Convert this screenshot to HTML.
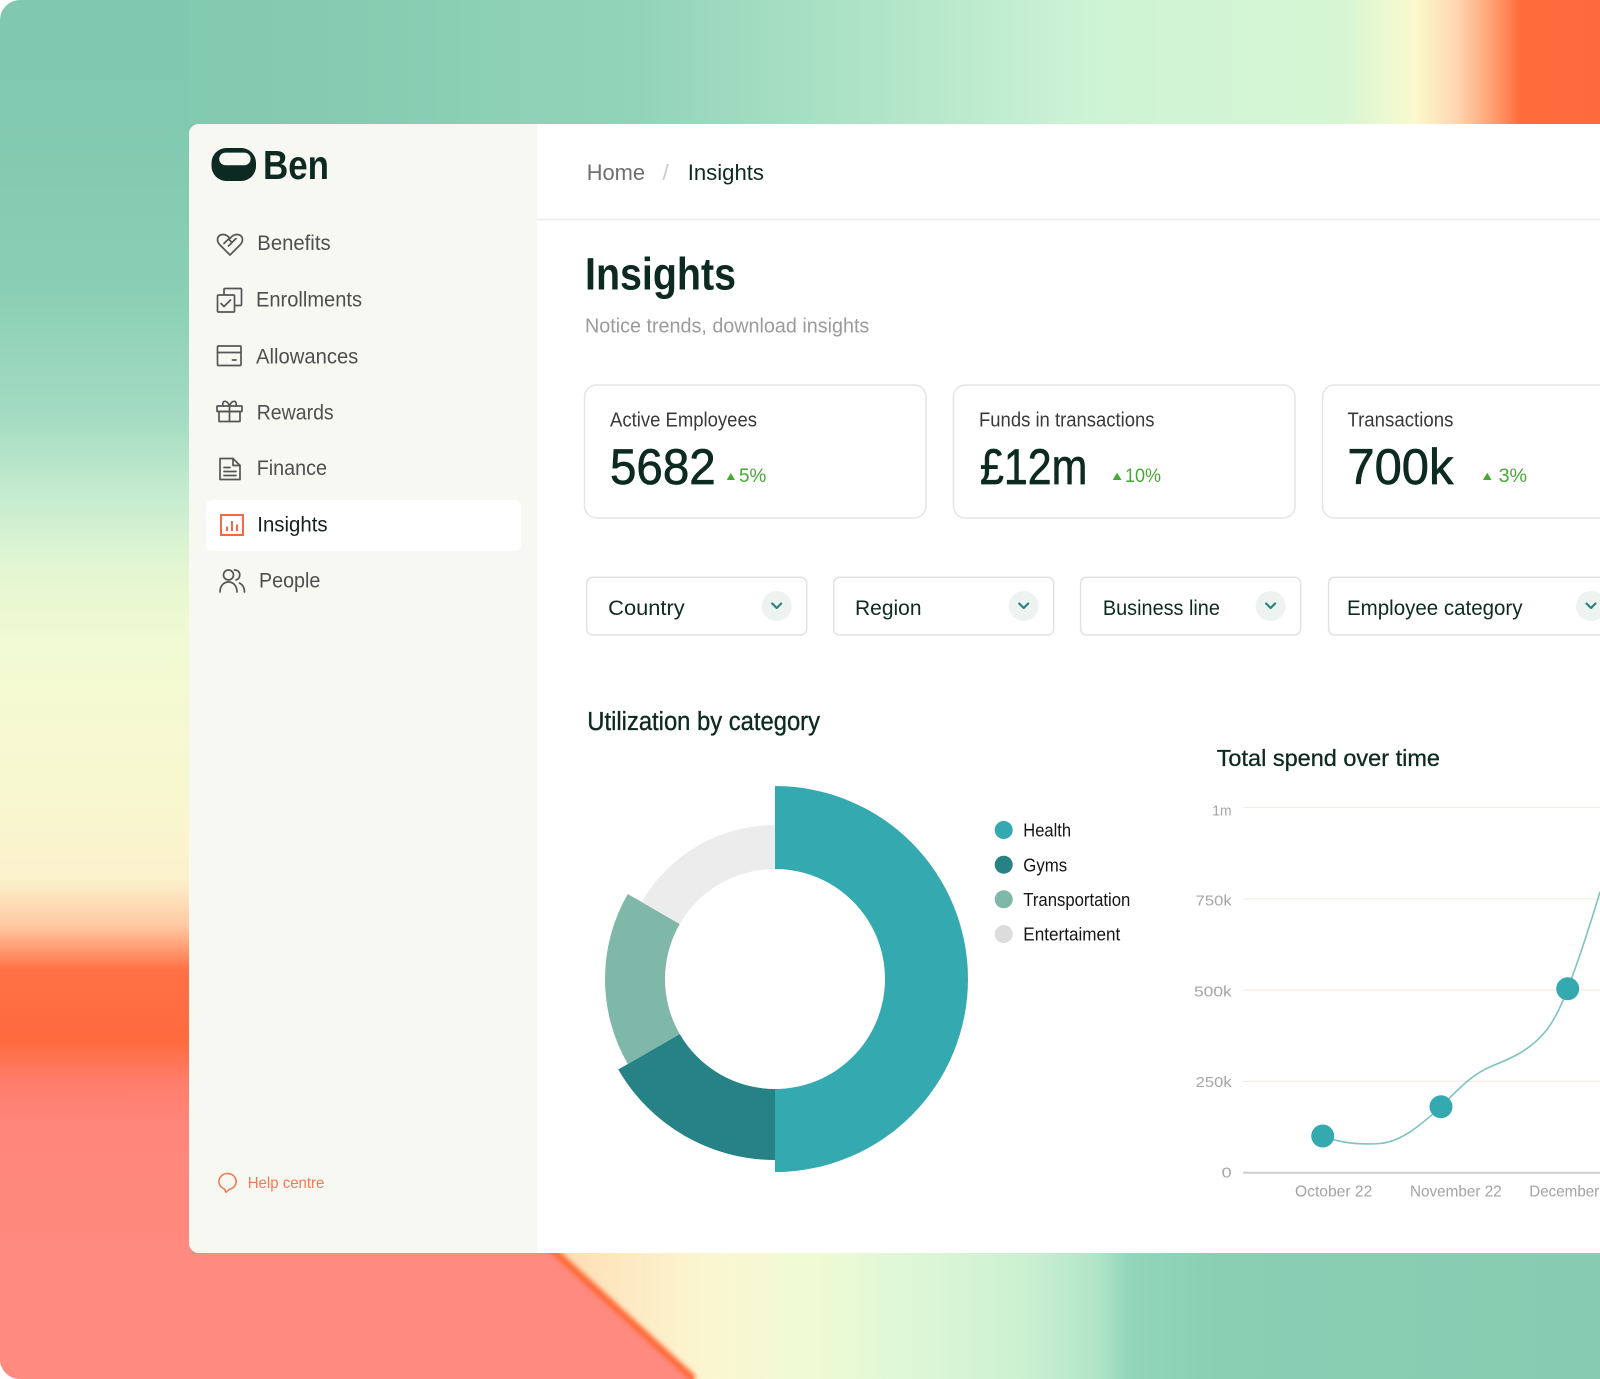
<!DOCTYPE html>
<html><head><meta charset="utf-8">
<style>
html,body{margin:0;padding:0;background:#fff;width:1600px;height:1379px;overflow:hidden;}
svg{display:block;}
text{font-family:"Liberation Sans",Arial,sans-serif;}
</style></head><body>
<svg width="1600" height="1379" viewBox="0 0 1600 1379" xmlns="http://www.w3.org/2000/svg">
<defs>
 <clipPath id="outer"><path d="M20,0H1600V1379H20A20,20 0 0 1 0,1359V20A20,20 0 0 1 20,0Z"/></clipPath>
 <clipPath id="panel"><path d="M199,124H1600V1253H199A10,10 0 0 1 189,1243V134A10,10 0 0 1 199,124Z"/></clipPath>
 <linearGradient id="gTop" gradientUnits="userSpaceOnUse" x1="0" y1="0" x2="1600" y2="0">
  <stop offset="0" stop-color="#80c8af"/>
  <stop offset="0.2" stop-color="#84cbb1"/>
  <stop offset="0.4" stop-color="#93d4b9"/>
  <stop offset="0.55" stop-color="#b0e4c8"/>
  <stop offset="0.68" stop-color="#cdf3d5"/>
  <stop offset="0.84" stop-color="#d6f6d2"/>
  <stop offset="0.875" stop-color="#f3f9cf"/>
  <stop offset="0.885" stop-color="#fcf8cb"/>
  <stop offset="0.91" stop-color="#fed8b2"/>
  <stop offset="0.935" stop-color="#ff9a6c"/>
  <stop offset="0.95" stop-color="#ff6c3c"/>
  <stop offset="1" stop-color="#ff6a3c"/>
 </linearGradient>
 <linearGradient id="gLeft" gradientUnits="userSpaceOnUse" x1="0" y1="0" x2="0" y2="1379">
  <stop offset="0" stop-color="#80c8af"/>
  <stop offset="0.09" stop-color="#81c9b0"/>
  <stop offset="0.21" stop-color="#8acfb5"/>
  <stop offset="0.30" stop-color="#a2dbc0"/>
  <stop offset="0.36" stop-color="#c6ecd0"/>
  <stop offset="0.415" stop-color="#e4f7d2"/>
  <stop offset="0.47" stop-color="#f2fad3"/>
  <stop offset="0.573" stop-color="#f8f8d0"/>
  <stop offset="0.638" stop-color="#fbf1cb"/>
  <stop offset="0.672" stop-color="#ffc8a0"/>
  <stop offset="0.703" stop-color="#ff7246"/>
  <stop offset="0.754" stop-color="#ff6a3e"/>
  <stop offset="0.785" stop-color="#ff7d6c"/>
  <stop offset="0.815" stop-color="#ff867a"/>
  <stop offset="1" stop-color="#ff8c82"/>
 </linearGradient>
 <linearGradient id="gBot" gradientUnits="userSpaceOnUse" x1="0" y1="0" x2="1600" y2="0">
  <stop offset="0" stop-color="#ff8a80"/>
  <stop offset="0.34" stop-color="#ff8a80"/>
  <stop offset="0.35" stop-color="#ffdcb4"/>
  <stop offset="0.39" stop-color="#fde9c2"/>
  <stop offset="0.44" stop-color="#fbf6d0"/>
  <stop offset="0.51" stop-color="#eefbd4"/>
  <stop offset="0.575" stop-color="#dcf7d6"/>
  <stop offset="0.64" stop-color="#cbf1d2"/>
  <stop offset="0.685" stop-color="#b2e5c7"/>
  <stop offset="0.705" stop-color="#93d6ba"/>
  <stop offset="0.76" stop-color="#88cfb4"/>
  <stop offset="1" stop-color="#86ccb2"/>
 </linearGradient>
 <filter id="blur3" x="-20%" y="-20%" width="140%" height="140%"><feGaussianBlur stdDeviation="2.5"/></filter>
</defs>

<g clip-path="url(#outer)">
 <!-- background -->
 <rect x="0" y="0" width="1600" height="1379" fill="url(#gLeft)"/>
 <rect x="189" y="0" width="1411" height="124" fill="url(#gTop)"/>
 <rect x="0" y="1240" width="1600" height="139" fill="url(#gBot)"/>
 <polygon points="0,1240 542,1240 694,1379 0,1379" fill="#ff8a80"/>
 <line x1="542" y1="1240" x2="694" y2="1379" stroke="#ff6a36" stroke-width="7" filter="url(#blur3)"/>

 <!-- panel -->
 <g clip-path="url(#panel)">
  <rect x="189" y="124" width="1411" height="1129" fill="#ffffff"/>
  <rect x="189" y="124" width="348" height="1129" fill="#f7f8f2"/>
 </g>
 <line x1="537" y1="219.5" x2="1600" y2="219.5" stroke="#eceeed" stroke-width="1.5"/>

 <!-- logo -->
 <rect x="211.5" y="148" width="44.5" height="33" rx="15" fill="#0c2a21"/>
 <rect x="219.2" y="152.6" width="31.4" height="12.6" rx="6.3" fill="#f7f8f2"/>
 <text x="263" y="179" font-size="41" font-weight="700" fill="#0c2a21" textLength="66" lengthAdjust="spacingAndGlyphs">Ben</text>

 <!-- nav -->
 <rect x="206" y="500" width="315" height="51" rx="6" fill="#ffffff"/>
 <g fill="none" stroke="#555" stroke-width="1.7" stroke-linejoin="round" stroke-linecap="round">
  <path d="M230,255 L220,245 C216,241 217,235 222.5,234.5 C226,234.2 228.5,236.5 230,238.5 C231.5,236.5 234,234.2 237.5,234.5 C243,235 244,241 240,245 Z"/>
  <path d="M224,243.5 L228.5,239 L232,242.5 L228.5,246 M232,242.5 L236,238.5"/>
  <rect x="224" y="288.5" width="17.5" height="17" rx="1"/>
  <rect x="217.5" y="295" width="17" height="17" rx="1" fill="#f7f8f2"/>
  <path d="M221,303.5 L224,306.5 L230.5,300"/>
  <rect x="217.5" y="346" width="23.5" height="19.5" rx="1"/>
  <path d="M217.5,352.5 H241 M232.5,360 H236"/>
  <rect x="217" y="406" width="25" height="5.5" rx="0.5"/>
  <rect x="219" y="411.5" width="21" height="10" rx="0.5"/>
  <path d="M229.5,406 V421.5 M229.5,406 C227,399.5 221.5,400 223,406 M229.5,406 C232,399.5 237.5,400 236,406"/>
  <path d="M220,458.5 H233 L240,465.5 V479.5 H220 Z"/>
  <path d="M233,458.5 V465.5 H240 M224,467.5 H230 M224,471.5 H236 M224,475.5 H236"/>
  <circle cx="228.5" cy="575" r="5"/>
  <path d="M220,592 C220,585.5 224,582 228.5,582 C233,582 237,585.5 237,592"/>
  <path d="M234.5,570 C238.5,570 240.5,573 239.5,576.5 C239,578.5 237.5,579.5 236,580 M239.5,583 C242.5,584.5 244.5,587.5 244.5,592"/>
 </g>
 <g fill="none" stroke="#f26a45" stroke-width="2">
  <rect x="221" y="515" width="22" height="20"/>
  <path d="M227,526.5 V531 M232,521 V531 M237,524.5 V531"/>
 </g>
 <g font-size="21.5" fill="#4f4f4f">
  <text x="257.3" y="250" textLength="73.3" lengthAdjust="spacingAndGlyphs">Benefits</text>
  <text x="256" y="306.7" textLength="106" lengthAdjust="spacingAndGlyphs">Enrollments</text>
  <text x="256" y="363.3" textLength="102.3" lengthAdjust="spacingAndGlyphs">Allowances</text>
  <text x="256.7" y="419.3" textLength="77" lengthAdjust="spacingAndGlyphs">Rewards</text>
  <text x="256.7" y="475" textLength="70.3" lengthAdjust="spacingAndGlyphs">Finance</text>
  <text x="257.3" y="531.7" textLength="70.3" lengthAdjust="spacingAndGlyphs" fill="#15201c">Insights</text>
  <text x="259" y="587.3" textLength="61.3" lengthAdjust="spacingAndGlyphs">People</text>
 </g>

 <!-- help centre -->
 <path d="M224.5,1189 A8.6,8 0 1 1 229.5,1189.3 L226,1192.3 Z" fill="none" stroke="#f47a55" stroke-width="1.6" stroke-linejoin="round"/>
 <text x="247.7" y="1188" font-size="16" fill="#f47a55" textLength="76.7" lengthAdjust="spacingAndGlyphs">Help centre</text>

 <!-- breadcrumb -->
 <text x="586.7" y="180" font-size="22.5" fill="#6f6f6f" textLength="58.3" lengthAdjust="spacingAndGlyphs">Home</text>
 <text x="662.5" y="180" font-size="22.5" fill="#cccccc">/</text>
 <text x="687.7" y="180" font-size="22.5" fill="#0e2a21" textLength="76.3" lengthAdjust="spacingAndGlyphs">Insights</text>

 <!-- title -->
 <text x="585" y="289.3" font-size="45" font-weight="700" fill="#0c2a21" textLength="151" lengthAdjust="spacingAndGlyphs">Insights</text>
 <text x="585" y="332.3" font-size="20.5" fill="#9b9b9b" textLength="284.3" lengthAdjust="spacingAndGlyphs">Notice trends, download insights</text>

 <!-- cards -->
 <g clip-path="url(#panel)" fill="#ffffff" stroke="#e4e5e4" stroke-width="1.5">
  <rect x="584.5" y="385" width="341.5" height="133" rx="12"/>
  <rect x="953.5" y="385" width="341.5" height="133" rx="12"/>
  <rect x="1322.5" y="385" width="341.5" height="133" rx="12"/>
 </g>
 <g font-size="20" fill="#3a3a3a">
  <text x="610" y="426.7" textLength="147" lengthAdjust="spacingAndGlyphs">Active Employees</text>
  <text x="979" y="426.7" textLength="175.5" lengthAdjust="spacingAndGlyphs">Funds in transactions</text>
  <text x="1347.4" y="426.7" textLength="106" lengthAdjust="spacingAndGlyphs">Transactions</text>
 </g>
 <g font-size="50" fill="#0c2a21" stroke="#0c2a21" stroke-width="0.7">
  <text x="610" y="484" textLength="105.7" lengthAdjust="spacingAndGlyphs">5682</text>
  <text x="980" y="484" textLength="107.3" lengthAdjust="spacingAndGlyphs">£12m</text>
  <text x="1347.4" y="484" textLength="106" lengthAdjust="spacingAndGlyphs">700k</text>
 </g>
 <g fill="#45a934">
  <polygon points="726.7,480 735,480 730.85,473"/>
  <polygon points="1112.6,480 1121.6,480 1117.1,472.7"/>
  <polygon points="1483,480 1491.6,480 1487.3,472.7"/>
 </g>
 <g font-size="19.5" fill="#45a934">
  <text x="739" y="482" textLength="27.3" lengthAdjust="spacingAndGlyphs">5%</text>
  <text x="1125" y="482" textLength="36" lengthAdjust="spacingAndGlyphs">10%</text>
  <text x="1498.6" y="482" textLength="28.5" lengthAdjust="spacingAndGlyphs">3%</text>
 </g>

 <!-- filters -->
 <g fill="#ffffff" stroke="#e1e3e2" stroke-width="1.5">
  <rect x="586.7" y="577.3" width="220" height="57.7" rx="6"/>
  <rect x="833.7" y="577.3" width="220" height="57.7" rx="6"/>
  <rect x="1080.6" y="577.3" width="220" height="57.7" rx="6"/>
  <rect x="1328.6" y="577.3" width="292" height="57.7" rx="6"/>
 </g>
 <g fill="#edf3f0">
  <circle cx="776.7" cy="606" r="15"/>
  <circle cx="1023.7" cy="606" r="15"/>
  <circle cx="1270.6" cy="606" r="15"/>
  <circle cx="1591" cy="606" r="15"/>
 </g>
 <g fill="none" stroke="#2e8280" stroke-width="2.2" stroke-linecap="round" stroke-linejoin="round">
  <path d="M772.2,603.5 L776.7,608 L781.2,603.5"/>
  <path d="M1019.2,603.5 L1023.7,608 L1028.2,603.5"/>
  <path d="M1266.1,603.5 L1270.6,608 L1275.1,603.5"/>
  <path d="M1586.5,603.5 L1591,608 L1595.5,603.5"/>
 </g>
 <g font-size="21" fill="#0e2a21">
  <text x="608.2" y="615" textLength="76.5" lengthAdjust="spacingAndGlyphs">Country</text>
  <text x="855" y="615" textLength="66.5" lengthAdjust="spacingAndGlyphs">Region</text>
  <text x="1102.9" y="615" textLength="117" lengthAdjust="spacingAndGlyphs">Business line</text>
  <text x="1347" y="615" textLength="175.5" lengthAdjust="spacingAndGlyphs">Employee category</text>
 </g>

 <!-- donut section -->
 <text x="587.3" y="730" font-size="25.5" fill="#0c2a21" stroke="#0c2a21" stroke-width="0.35" textLength="232.7" lengthAdjust="spacingAndGlyphs">Utilization by category</text>
 <path d="M775,786 A193,193 0 0 1 968,979 A193,193 0 0 1 775,1172 L775,1089 A110,110 0 0 0 885,979 A110,110 0 0 0 775,869 Z" fill="#35a9b0"/>
 <path d="M775,1160 A181,181 0 0 1 618.25,1069.5 L679.74,1034 A110,110 0 0 0 775,1089 Z" fill="#268285"/>
 <path d="M627.78,1064 A170,170 0 0 1 627.78,894 L679.74,924 A110,110 0 0 0 679.74,1034 Z" fill="#7fb8a8"/>
 <path d="M641.63,902 A154,154 0 0 1 775,825 L775,869 A110,110 0 0 0 679.74,924 Z" fill="#ececec"/>

 <circle cx="1003.7" cy="830" r="9" fill="#35a9b0"/>
 <circle cx="1003.7" cy="864.7" r="9" fill="#268285"/>
 <circle cx="1003.7" cy="899.3" r="9" fill="#7fb8a8"/>
 <circle cx="1003.7" cy="934" r="9" fill="#dcdcdc"/>
 <g font-size="18.5" fill="#151515">
  <text x="1023.3" y="836.7" textLength="47.7" lengthAdjust="spacingAndGlyphs">Health</text>
  <text x="1023.3" y="871.4" textLength="43.8" lengthAdjust="spacingAndGlyphs">Gyms</text>
  <text x="1023.3" y="906" textLength="107" lengthAdjust="spacingAndGlyphs">Transportation</text>
  <text x="1023.3" y="940.7" textLength="97" lengthAdjust="spacingAndGlyphs">Entertaiment</text>
 </g>

 <!-- line chart -->
 <text x="1216.7" y="766" font-size="23.5" fill="#0c2a21" stroke="#0c2a21" stroke-width="0.3" textLength="223.3" lengthAdjust="spacingAndGlyphs">Total spend over time</text>
 <g stroke="#f6eee3" stroke-width="1.2">
  <line x1="1243" y1="807.5" x2="1600" y2="807.5"/>
  <line x1="1243" y1="898.8" x2="1600" y2="898.8"/>
  <line x1="1243" y1="990.1" x2="1600" y2="990.1"/>
  <line x1="1243" y1="1081.4" x2="1600" y2="1081.4"/>
 </g>
 <line x1="1243" y1="1172.7" x2="1600" y2="1172.7" stroke="#cdcdcd" stroke-width="2"/>
 <g font-size="15" fill="#a6a6a6">
  <text x="1212.3" y="815.3" textLength="19.3" lengthAdjust="spacingAndGlyphs">1m</text>
  <text x="1195.7" y="905.7" textLength="36" lengthAdjust="spacingAndGlyphs">750k</text>
  <text x="1194" y="996.3" textLength="37.7" lengthAdjust="spacingAndGlyphs">500k</text>
  <text x="1195.7" y="1087" textLength="36" lengthAdjust="spacingAndGlyphs">250k</text>
  <text x="1221.7" y="1177.6" textLength="10" lengthAdjust="spacingAndGlyphs">0</text>
 </g>
 <g font-size="16" fill="#a3a3a3">
  <text x="1295" y="1196.7" textLength="77.3" lengthAdjust="spacingAndGlyphs">October 22</text>
  <text x="1410" y="1196.7" textLength="91.7" lengthAdjust="spacingAndGlyphs">November 22</text>
  <text x="1529.3" y="1196.7" textLength="91" lengthAdjust="spacingAndGlyphs">December 22</text>
 </g>
 <path d="M1322.7,1136 C1340,1143 1360,1145 1380,1143.5 C1400,1142 1420,1126 1441,1106.7 C1455,1093 1470,1075 1492,1066 C1512,1058 1530,1050 1545,1032 C1555,1020 1562,1004 1567.7,988.7 C1578,962 1590,925 1600,892" fill="none" stroke="#7cc3c2" stroke-width="1.6"/>
 <circle cx="1322.7" cy="1136" r="11.5" fill="#35a9b0"/>
 <circle cx="1441" cy="1106.7" r="11.5" fill="#35a9b0"/>
 <circle cx="1567.7" cy="988.7" r="11.5" fill="#35a9b0"/>
</g>
</svg>
</body></html>
